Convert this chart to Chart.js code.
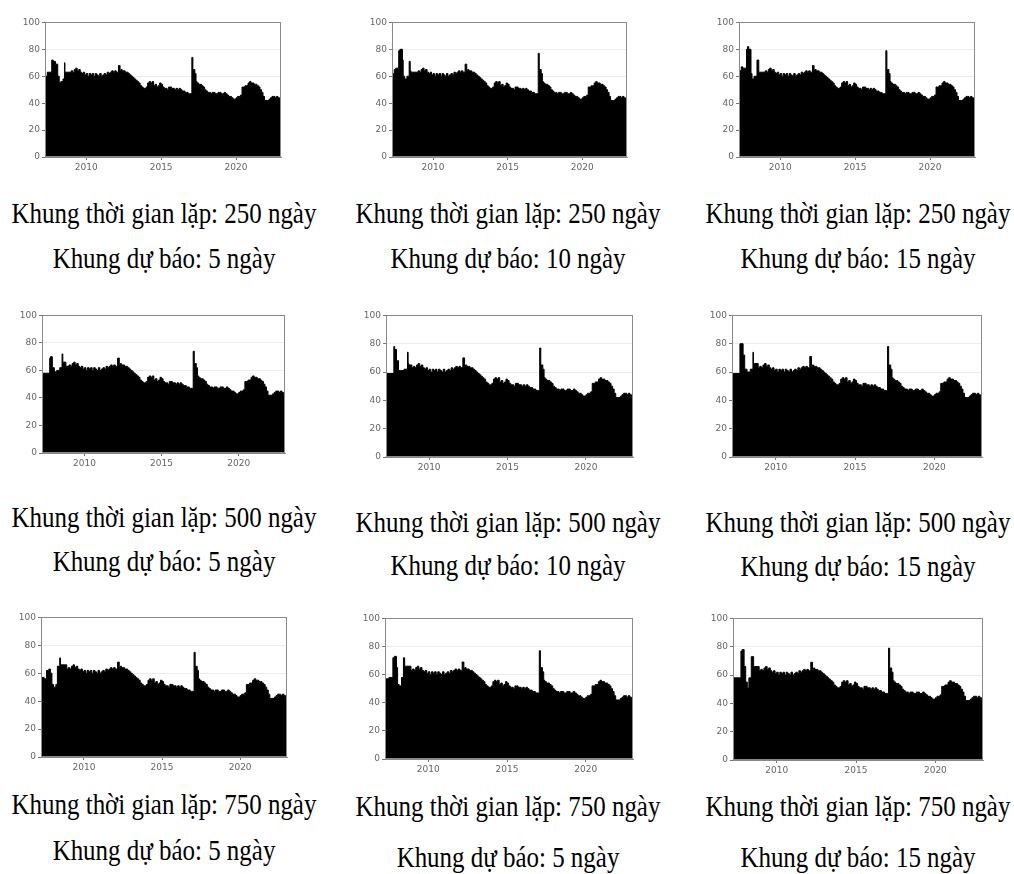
<!DOCTYPE html>
<html>
<head>
<meta charset="utf-8">
<script src="https://cdn.jsdelivr.net/npm/chart.js@4.4.0/dist/chart.umd.min.js"></script>
<style>
  body { margin: 0; background: #fff; width: 1014px; height: 874px; position: relative; overflow: hidden; }
  canvas { position: absolute; }
  .cap { position: absolute; width: 420px; text-align: center; font-family: "Liberation Serif", "Times New Roman", serif;
         font-size: 29px; line-height: 30px; color: #000; white-space: nowrap; transform: scaleX(0.86); transform-origin: center; }
</style>
</head>
<body>
<script>
// panel captions
var windowDays = [250, 250, 250, 500, 500, 500, 750, 750, 750];
var horizonDays = [5, 10, 15, 5, 10, 15, 5, 5, 15];

// axis ticks
var yearTicks = [2010, 2015, 2020];
var yTicks = [0, 20, 40, 60, 80, 100];

// shared part of the series, 2008.9 onwards
var tailYears = [2009.0, 2009.1, 2009.2, 2009.3, 2009.4, 2009.5, 2009.6, 2009.7, 2009.8, 2009.9,
  2010.0, 2010.1, 2010.2, 2010.3, 2010.4, 2010.5, 2010.6, 2010.7, 2010.8, 2010.9,
  2011.0, 2011.1, 2011.2, 2011.3, 2011.4, 2011.5, 2011.6, 2011.7, 2011.8, 2011.9,
  2012.0, 2012.1, 2012.15, 2012.22, 2012.26, 2012.32, 2012.4, 2012.5, 2012.6, 2012.7, 2012.8, 2012.9,
  2013.0, 2013.1, 2013.2, 2013.3, 2013.4, 2013.5, 2013.6, 2013.7, 2013.8, 2013.9,
  2014.0, 2014.1, 2014.2, 2014.3, 2014.4, 2014.5, 2014.6, 2014.7, 2014.8, 2014.9,
  2015.0, 2015.1, 2015.2, 2015.3, 2015.4, 2015.5, 2015.6, 2015.7, 2015.8, 2015.9,
  2016.0, 2016.1, 2016.2, 2016.3, 2016.4, 2016.5, 2016.6, 2016.7, 2016.8, 2016.9, 2017.0,
  2017.05, 2017.08, 2017.12, 2017.16, 2017.25, 2017.33, 2017.4, 2017.5, 2017.6, 2017.7, 2017.8, 2017.9,
  2018.0, 2018.1, 2018.2, 2018.3, 2018.4, 2018.5, 2018.6, 2018.7, 2018.8, 2018.9,
  2019.0, 2019.1, 2019.2, 2019.3, 2019.4, 2019.5, 2019.6, 2019.7, 2019.8, 2019.9,
  2020.0, 2020.1, 2020.2, 2020.3, 2020.4, 2020.5, 2020.6, 2020.7, 2020.8, 2020.9,
  2021.0, 2021.1, 2021.2, 2021.3, 2021.4, 2021.5, 2021.6, 2021.7, 2021.8, 2021.9,
  2022.0, 2022.1, 2022.2, 2022.3, 2022.4, 2022.5, 2022.6, 2022.7, 2022.8, 2022.9, 2023.0];
var tailValues = [63, 64, 63, 65, 66, 64, 65, 63, 62, 63,
  61, 62, 60, 62, 61, 62, 60, 62, 61, 60,
  62, 60, 61, 62, 61, 63, 62, 63, 64, 63,
  64, 63, 63, 68, 68, 64, 65, 64, 64, 63, 63, 62,
  61, 60, 59, 58, 57, 56, 55, 53, 52, 51,
  51, 52, 55, 56, 55, 56, 53, 54, 52, 53,
  55, 54, 52, 51, 51, 50, 52, 52, 51, 51,
  50, 51, 50, 51, 50, 49, 49, 48, 48, 47, 47,
  47, 75, 75, 65, 65, 62, 56, 55, 54, 54, 53, 52,
  50, 49, 48, 48, 47, 48, 48, 47, 47, 48,
  48, 47, 47, 48, 47, 46, 45, 45, 44, 43,
  43, 44, 45, 45, 46, 52, 52, 53, 53, 55,
  56, 55, 55, 54, 54, 53, 52, 50, 48, 45,
  42, 42, 42, 43, 44, 45, 45, 44, 45, 44, 42];

// per-panel peaks (2012 and 2017 spikes)
var spike2012 = [68, 69, 68, 69, 70, 71, 68, 69, 69];
var spike2017 = [74, 77, 79, 74, 77, 78, 75, 77, 79];

// per-panel start of the series, 2007.25 - 2008.9
var headYears = [
  [2007.25, 2007.4, 2007.5, 2007.7, 2007.8, 2007.95, 2008.1, 2008.2, 2008.3, 2008.45, 2008.55, 2008.58, 2008.62, 2008.8],
  [2007.25, 2007.4, 2007.5, 2007.7, 2007.78, 2007.95, 2008.0, 2008.1, 2008.25, 2008.4, 2008.47, 2008.52, 2008.8],
  [2007.25, 2007.4, 2007.5, 2007.75, 2007.82, 2007.9, 2008.05, 2008.12, 2008.25, 2008.45, 2008.57, 2008.62, 2008.8],
  [2007.25, 2007.5, 2007.75, 2007.8, 2007.92, 2008.05, 2008.2, 2008.4, 2008.55, 2008.6, 2008.65, 2008.8],
  [2007.25, 2007.5, 2007.75, 2007.8, 2007.92, 2008.05, 2008.2, 2008.4, 2008.62, 2008.66, 2008.7, 2008.9],
  [2007.25, 2007.5, 2007.75, 2007.8, 2007.95, 2008.05, 2008.2, 2008.4, 2008.57, 2008.6, 2008.65, 2008.9],
  [2007.25, 2007.45, 2007.6, 2007.75, 2007.85, 2007.95, 2008.05, 2008.2, 2008.3, 2008.45, 2008.5, 2008.6, 2008.9],
  [2007.25, 2007.5, 2007.75, 2007.85, 2007.98, 2008.05, 2008.15, 2008.3, 2008.42, 2008.5, 2008.55, 2008.9],
  [2007.25, 2007.5, 2007.75, 2007.83, 2007.95, 2008.05, 2008.15, 2008.25, 2008.4, 2008.55, 2008.6, 2008.9]
];
var headValues = [
  [59, 60, 63, 63, 72, 71, 69, 60, 55, 56, 58, 70, 63, 63],
  [59, 62, 65, 66, 79, 80, 72, 60, 58, 60, 71, 64, 63],
  [60, 64, 67, 66, 80, 82, 80, 62, 58, 60, 72, 63, 63],
  [59, 58, 58, 69, 70, 62, 59, 60, 62, 72, 66, 66],
  [60, 59, 59, 78, 76, 68, 61, 61, 62, 74, 66, 65],
  [61, 59, 59, 80, 80, 72, 62, 60, 62, 74, 66, 66],
  [58, 57, 56, 62, 63, 60, 52, 50, 52, 65, 71, 66, 66],
  [59, 57, 58, 72, 73, 65, 53, 52, 58, 72, 66, 66],
  [59, 58, 58, 77, 78, 66, 55, 51, 58, 73, 66, 66]
];

// plot rectangles [left, top, right, bottom] and caption positions
var plotBoxes = [
  [45, 21, 281, 157], [392, 21, 627, 157], [739, 21, 975, 157],
  [42, 314, 285, 453], [386, 314, 633, 457], [732, 314, 982, 457],
  [41, 616, 287, 757], [385, 617, 633, 759], [733, 617, 983, 760]
];
var capX = [164, 508, 858];
var capY = [[213, 258], [213, 258], [213, 258],
            [517, 561], [522, 565], [522, 566],
            [804, 850], [806, 857], [806, 857]];

var frame = {
  id: 'frame',
  afterDraw: function(chart) {
    var a = chart.chartArea, c = chart.ctx;
    c.save();
    c.strokeStyle = '#8a8a8a';
    c.lineWidth = 1;
    c.strokeRect(Math.round(a.left) + 0.5, Math.round(a.top) + 0.5, Math.round(a.right - a.left) - 1, Math.round(a.bottom - a.top) - 1);
    c.restore();
  }
};

function panelData(i) {
  var pts = [];
  for (var j = 0; j < headYears[i].length; j++) pts.push({x: headYears[i][j], y: headValues[i][j]});
  for (var k = 0; k < tailYears.length; k++) {
    var v = tailValues[k];
    if (tailYears[k] === 2012.22 || tailYears[k] === 2012.26) v = spike2012[i];
    if (tailYears[k] === 2017.08 || tailYears[k] === 2017.12) v = spike2017[i];
    pts.push({x: tailYears[k], y: v});
  }
  return pts;
}

for (var i = 0; i < 9; i++) {
  var b = plotBoxes[i];
  var cv = document.createElement('canvas');
  var w = (b[2] - b[0]) + 30 + 4, h = (b[3] - b[1]) + 6 + 20;
  cv.width = w; cv.height = h;
  cv.style.left = (b[0] - 30) + 'px';
  cv.style.top = (b[1] - 6) + 'px';
  document.body.appendChild(cv);

  new Chart(cv.getContext('2d'), {
    type: 'line',
    data: {
      datasets: [{
        data: panelData(i),
        fill: 'origin',
        backgroundColor: '#000',
        borderColor: '#000',
        borderWidth: 1,
        pointRadius: 0,
        stepped: 'after'
      }]
    },
    options: {
      responsive: false,
      animation: false,
      layout: { padding: { top: 6, right: 4, left: 0, bottom: 0 } },
      plugins: { legend: { display: false }, tooltip: { enabled: false } },
      scales: {
        x: {
          type: 'linear',
          min: 2007.25,
          max: 2023.0,
          afterBuildTicks: function(s) { s.ticks = yearTicks.map(function(v) { return {value: v}; }); },
          afterFit: function(s) { s.height = 20; },
          ticks: { font: { size: 9, family: 'DejaVu Sans' }, color: '#666', padding: 2, maxRotation: 0,
                   callback: function(v) { return String(v); } },
          grid: { drawOnChartArea: false, tickLength: 3, tickColor: '#777' },
          border: { color: '#8a8a8a' }
        },
        y: {
          min: 0,
          max: 100,
          afterBuildTicks: function(s) { s.ticks = yTicks.map(function(v) { return {value: v}; }); },
          afterFit: function(s) { s.width = 30; },
          ticks: { font: { size: 9, family: 'DejaVu Sans' }, color: '#666', padding: 2 },
          grid: { color: '#ececec', tickLength: 3, tickColor: '#777' },
          border: { color: '#8a8a8a' }
        }
      }
    },
    plugins: [frame]
  });

  var col = i % 3;
  var l1 = document.createElement('div');
  l1.className = 'cap';
  l1.textContent = 'Khung thời gian lặp: ' + windowDays[i] + ' ngày';
  l1.style.left = (capX[col] - 210) + 'px';
  l1.style.top = (capY[i][0] - 15) + 'px';
  document.body.appendChild(l1);
  var l2 = document.createElement('div');
  l2.className = 'cap';
  l2.textContent = 'Khung dự báo: ' + horizonDays[i] + ' ngày';
  l2.style.left = (capX[col] - 210) + 'px';
  l2.style.top = (capY[i][1] - 15) + 'px';
  document.body.appendChild(l2);
}
</script>
</body>
</html>
